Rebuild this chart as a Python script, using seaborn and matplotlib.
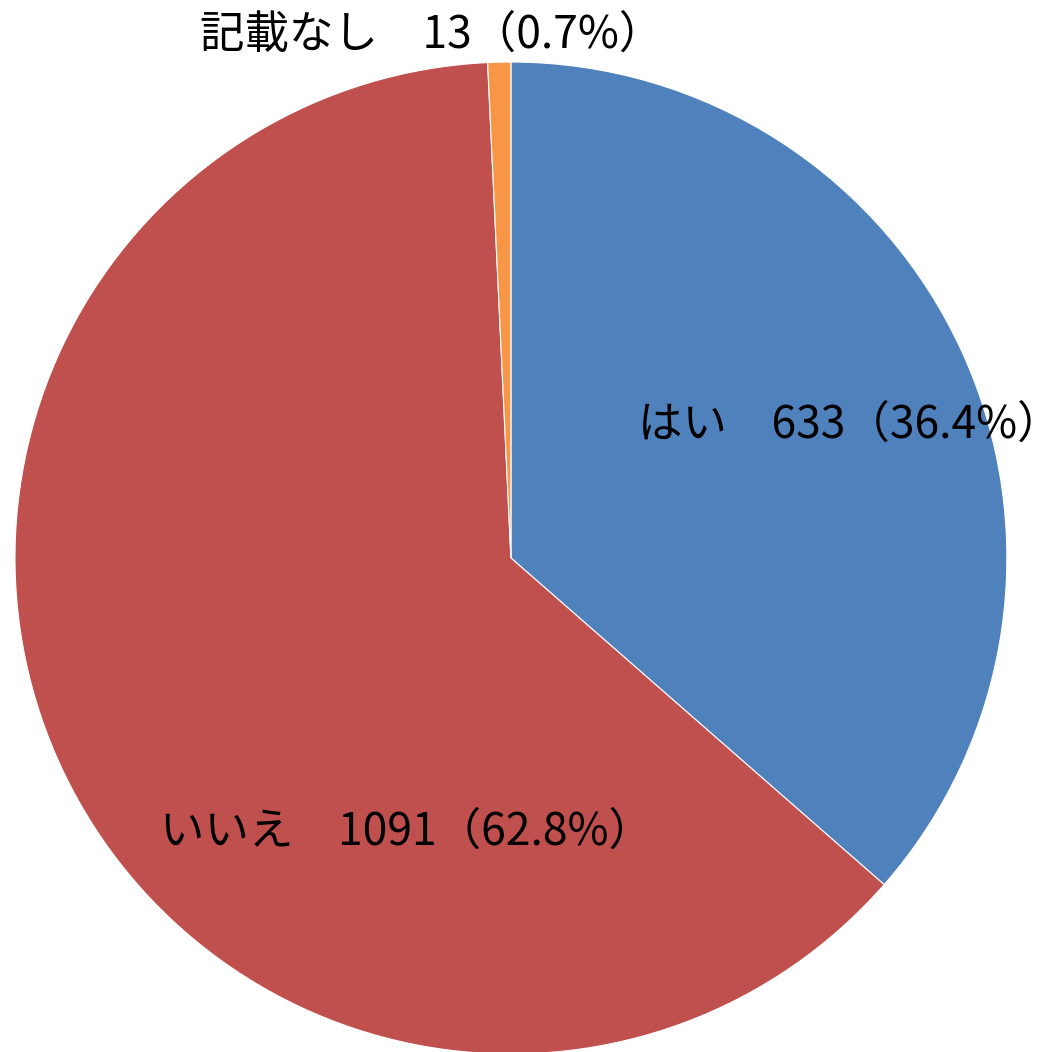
import matplotlib
matplotlib.use("Agg")
import matplotlib.pyplot as plt
import seaborn as sns

categories = ["はい", "いいえ", "記載なし"]
counts = [633, 1091, 13]
percents = [36.4, 62.8, 0.7]
colors = ["#4F81BD", "#C0504D", "#F79646"]

sns.set_theme(style="white")
plt.rcParams["font.family"] = ["Noto Sans CJK JP", "DejaVu Sans"]

fig = plt.figure(figsize=(10.62, 10.52), dpi=100)
ax = fig.add_axes([0.0141, -0.0019, 0.934, 0.943])
ax.pie(counts, colors=colors, startangle=90, counterclock=False,
       wedgeprops=dict(edgecolor="white", linewidth=0.8))
ax.set_xlim(-1, 1)
ax.set_ylim(-1, 1)
ax.set_aspect("equal")
ax.axis("off")

# label positions in pie coordinates (radius 1)
label_pos = [(0.684, 0.268), (-0.21, -0.552), (-0.159, 1.056)]
for cat, n, p, (x, y) in zip(categories, counts, percents, label_pos):
    ax.text(x, y, f"{cat}　{n}（{p}%）", ha="center", va="center",
            fontsize=32, color="black", clip_on=False)

fig.savefig("out.png", dpi=100)
